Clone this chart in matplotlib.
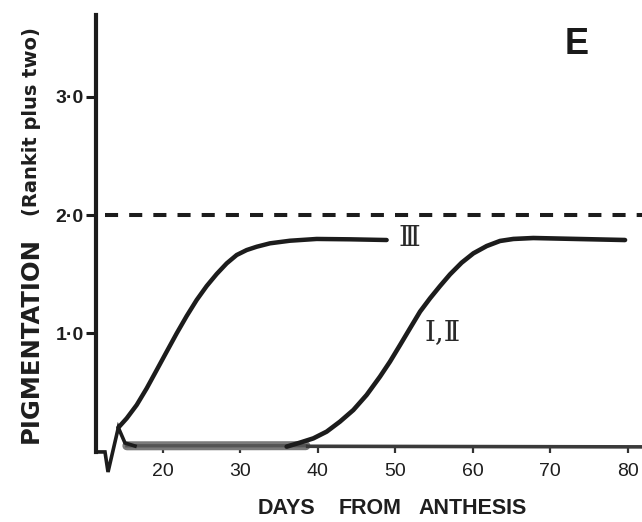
import matplotlib
matplotlib.use("Agg")
import matplotlib.pyplot as plt

# Pigmentation (rankit plus two) against days from anthesis
days_III = [14.30, 15.38, 16.67, 17.96, 19.25, 20.54, 21.83, 23.12, 24.41, 25.70,
            26.99, 28.28, 29.57, 30.86, 32.15, 33.87, 36.45, 39.89, 44.19, 48.92]
pig_III = [0.198, 0.277, 0.390, 0.531, 0.686, 0.842, 0.997, 1.144, 1.280, 1.398,
           1.500, 1.590, 1.661, 1.703, 1.731, 1.760, 1.782, 1.797, 1.794, 1.788]

days_I_II = [36.02, 37.74, 39.46, 41.18, 42.90, 44.62, 46.34, 48.06, 49.35, 50.65,
             51.94, 53.23, 54.52, 55.81, 57.10, 58.60, 60.11, 61.83, 63.55, 65.27,
             67.85, 79.68]
pig_I_II = [0.037, 0.071, 0.107, 0.164, 0.249, 0.347, 0.475, 0.630, 0.757, 0.898,
            1.040, 1.181, 1.294, 1.398, 1.497, 1.596, 1.675, 1.737, 1.780, 1.797,
            1.805, 1.788]

# trace at the foot of the axis, before the curves separate
days_start = [11.42, 12.58, 12.97, 14.30, 15.16, 16.45]
pig_start = [-0.008, -0.008, -0.178, 0.198, 0.068, 0.042]

# unpigmented baseline
days_base_early = [15.4, 38.5]
pig_base_early = [0.044, 0.045]
days_base_late = [38.5, 81.9]
pig_base_late = [0.040, 0.035]

reference_level = 2.0

x_ticks = [20, 30, 40, 50, 60, 70, 80]
x_tick_labels = ["20", "30", "40", "50", "60", "70", "80"]
y_ticks = [1.0, 2.0, 3.0]
y_tick_labels = ["1·0", "2·0", "3·0"]

W, H = 642, 522
fig = plt.figure(figsize=(W / 100, H / 100), dpi=100)
ax = fig.add_axes([0, 0, 1, 1])
ax.set_xlim(-0.968, 81.87)
ax.set_ylim((451 - 522) / 118, 451 / 118)
ax.patch.set_alpha(0)

ink = "#1c1c1c"
text_ink = "#1e1e1e"

for side in ("top", "right", "bottom"):
    ax.spines[side].set_visible(False)
ax.spines["left"].set_position(("data", 11.42))
ax.spines["left"].set_bounds(-0.008, 3.695)
ax.spines["left"].set_linewidth(3.0)
ax.spines["left"].set_color(ink)
ax.spines["bottom"].set_position(("data", 0.04))

ax.set_yticks(y_ticks)
ax.set_yticklabels(y_tick_labels, fontfamily="Liberation Sans",
                   fontweight="bold", fontsize=14, color=text_ink)
ax.tick_params(axis="y", direction="out", length=7, width=2.2,
               color=ink, pad=2)
ax.set_xticks(x_ticks)
ax.set_xticklabels(x_tick_labels, fontfamily="Liberation Sans",
                   fontsize=14, color=text_ink)
ax.tick_params(axis="x", direction="out", length=5, width=1.6,
               color="#333333", pad=7)

# reference line
ax.plot([12.58, 81.87], [reference_level, reference_level], color=ink,
        lw=2.9, linestyle=(0, (3.25, 2.75)), dash_capstyle="butt",
        solid_capstyle="butt", clip_on=False)

# baseline
ax.plot(days_base_early, pig_base_early, color="#7a7a7a", lw=6.5,
        solid_capstyle="round")
ax.plot(days_base_early, pig_base_early, color="#555555", lw=2.4)
ax.plot(days_base_late, pig_base_late, color="#3a3a3a", lw=2.6,
        solid_capstyle="butt", clip_on=False)

ax.plot(days_start, pig_start, color=ink, lw=2.6, solid_joinstyle="miter")

# pigmentation curves
ax.plot(days_III, pig_III, color=ink, lw=3.2, solid_capstyle="round")
ax.plot(days_I_II, pig_I_II, color=ink, lw=3.3, solid_capstyle="round")

roman = ["DejaVu Serif", "DejaVu Sans"]
fig.text(409 / W, 1 - 239 / H, "Ⅲ", family=roman, fontsize=20,
         ha="center", va="center", color="#2a2a2a")
fig.text(443 / W, 1 - 333 / H, "Ⅰ,Ⅱ", family=roman, fontsize=20,
         ha="center", va="center", color="#2a2a2a")

# panel letter
fig.text(577 / W, 1 - 44 / H, "E", family="Liberation Sans",
         fontweight="bold", fontsize=26, ha="center", va="center",
         color="#1a1a1a")

# axis titles
fig.text(31 / W, 1 - 340 / H, "PIGMENTATION", family="DejaVu Sans",
         fontweight="bold", fontsize=17.5, rotation=90, ha="center",
         va="center", color=text_ink)
fig.text(32 / W, 1 - 122 / H, "(Rankit plus two)", family="DejaVu Sans",
         fontweight="bold", fontsize=14, rotation=90, ha="center",
         va="center", color=text_ink)

for word, xc in (("DAYS", 286), ("FROM", 370), ("ANTHESIS", 473)):
    fig.text(xc / W, 1 - 508 / H, word, family="Liberation Sans",
             fontweight="bold", fontsize=15.5, ha="center", va="center",
             color=text_ink)

fig.savefig("out.png", dpi=100, facecolor="white")
